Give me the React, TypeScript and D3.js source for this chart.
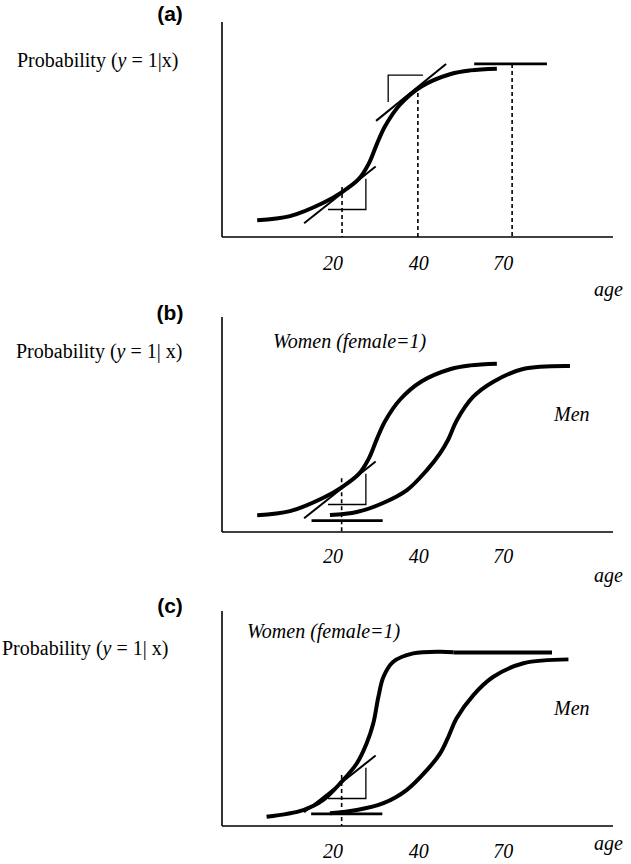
import React from "react";
import * as d3 from "d3";

type Pt = [number, number];

// ---- data (abstract units: 0..100 on both axes) ----
const panelLabels = ["(a)", "(b)", "(c)"];
const tickLabels = ["20", "40", "70"];
const tickAt = [28.4, 50.3, 71.9];

// probability curves
const womenAB: Pt[] = [[9, 7.8], [17.4, 9.7], [25.8, 15.8], [30.7, 20.9], [35, 27], [37.5, 34], [39.6, 43.2], [41.7, 51.5], [45.5, 61.5], [51, 70], [58.5, 75.8], [63.5, 77.5], [70.3, 78.3]];
const womenC: Pt[] = [[11.4, 4.3], [20.8, 7.4], [25.9, 12.1], [30.6, 20.6], [34.5, 29.2], [37, 38.5], [38.7, 47.8], [40, 60.1], [41.3, 69.4], [43.8, 76.4], [48.9, 80.3], [55.8, 81.1], [59.2, 80.8]];
const menB: Pt[] = [[27.6, 7.9], [34.5, 9.3], [41.2, 13.5], [47.3, 19.5], [52.4, 28.8], [55.8, 36.7], [57.8, 42.8], [60.1, 52.1], [64.2, 62.8], [69.3, 69.8], [77, 75.8], [89, 77.2]];
const menC: Pt[] = [[27.6, 5.9], [34.5, 7.4], [41.3, 10.6], [47.2, 16.7], [52.4, 26], [55.8, 33.8], [57.9, 41.5], [60, 50.1], [64.3, 60.9], [69.4, 69.4], [77.1, 75.7], [88.6, 77.5]];

// tangents and slope triangles
const tangentLow: Pt[] = [[21, 6.4], [39.3, 32.8]];
const stepLow: Pt[] = [[27.1, 12.8], [36.8, 12.8], [36.8, 27.1]];
const tangentHigh: Pt[] = [[39.4, 54], [57.3, 80.5]];
const stepHigh: Pt[] = [[42.5, 62.8], [42.5, 75.3], [51.4, 75.3]];
const plateauA: Pt[] = [[64.5, 80.5], [83.1, 80.5]];
const plateauC: Pt[] = [[59.2, 80.7], [84.4, 80.7]];
const baseB: Pt[] = [[22.9, 5.3], [41.1, 5.3]];
const baseC: Pt[] = [[22.8, 5.6], [41, 5.6]];

// dashed drop lines: [x, top]
const dropsA: Pt[] = [[30.7, 23.3], [50.1, 67], [74.2, 80.5]];
const dropsB: Pt[] = [[30.6, 25]];
const dropsC: Pt[] = [[30.6, 23.7]];

// ---- layout ----
const W = 631, H = 864;
const plotLeft = 222, plotW = 391, plotH = 215;
const serif = "'Liberation Serif', 'Times New Roman', serif";
const sans = "'Liberation Sans', Arial, sans-serif";

const x = d3.scaleLinear().domain([0, 100]).range([0, plotW]);
const y = d3.scaleLinear().domain([0, 100]).range([plotH, 0]);
const smooth = d3.line<Pt>().x(d => x(d[0])).y(d => y(d[1])).curve(d3.curveCatmullRom.alpha(0.5));
const straight = d3.line<Pt>().x(d => x(d[0])).y(d => y(d[1]));

type PanelSpec = {
  bottom: number;
  labelY: number;
  probX: number;
  probY: number;
  sep: string;
  curves: Pt[][];
  thick: Pt[][];
  medium: Pt[][];
  drops: Pt[];
  high: boolean;
  women?: [number, number];
  men?: [number, number];
  tickY: number;
  ageY: number;
};

const panels: PanelSpec[] = [
  { bottom: 237, labelY: 21, probX: 17, probY: 67, sep: "|", curves: [womenAB], thick: [], medium: [plateauA], drops: dropsA, high: true, tickY: 270, ageY: 296 },
  { bottom: 532, labelY: 320, probX: 16, probY: 358, sep: "| ", curves: [womenAB, menB], thick: [], medium: [baseB], drops: dropsB, high: false, women: [273, 348], men: [554, 421], tickY: 563, ageY: 582 },
  { bottom: 826, labelY: 613, probX: 2, probY: 655, sep: "| ", curves: [womenC, menC], thick: [plateauC], medium: [baseC], drops: dropsC, high: false, women: [247, 638], men: [554, 715], tickY: 858, ageY: 850 },
];

function Panel({ p, label }: { p: PanelSpec; label: string }) {
  const top = p.bottom - plotH;
  return (
    <g>
      <text x={170} y={p.labelY} textAnchor="middle" fontFamily={sans} fontWeight="bold" fontSize={21}>{label}</text>
      <text x={p.probX} y={p.probY} fontFamily={serif} fontSize={20}>
        Probability (<tspan fontStyle="italic">y</tspan> = 1{p.sep}x)
      </text>
      {p.women && (
        <text x={p.women[0]} y={p.women[1]} fontFamily={serif} fontStyle="italic" fontSize={20}>Women (female=1)</text>
      )}
      {p.men && (
        <text x={p.men[0]} y={p.men[1]} fontFamily={serif} fontStyle="italic" fontSize={20}>Men</text>
      )}
      <g transform={`translate(${plotLeft},${top})`}>
        <line x1={0} x2={0} y1={0} y2={plotH} stroke="#000" strokeWidth={1.6} />
        <line x1={0} x2={plotW} y1={plotH} y2={plotH} stroke="#000" strokeWidth={1.6} />
        {p.drops.map((d, i) => (
          <line key={i} x1={x(d[0])} x2={x(d[0])} y1={y(d[1])} y2={y(0)} stroke="#000" strokeWidth={1.6} strokeDasharray="4,3" />
        ))}
        {p.curves.map((c, i) => (
          <path key={i} d={smooth(c) ?? ""} fill="none" stroke="#000" strokeWidth={4} />
        ))}
        {p.thick.map((s, i) => (
          <path key={i} d={straight(s) ?? ""} fill="none" stroke="#000" strokeWidth={4} />
        ))}
        {p.medium.map((s, i) => (
          <path key={i} d={straight(s) ?? ""} fill="none" stroke="#000" strokeWidth={2.8} />
        ))}
        <path d={straight(tangentLow) ?? ""} fill="none" stroke="#000" strokeWidth={2} />
        <path d={straight(stepLow) ?? ""} fill="none" stroke="#000" strokeWidth={1.3} />
        {p.high && (
          <g>
            <path d={straight(tangentHigh) ?? ""} fill="none" stroke="#000" strokeWidth={2} />
            <path d={straight(stepHigh) ?? ""} fill="none" stroke="#000" strokeWidth={1.3} />
          </g>
        )}
      </g>
      {tickLabels.map((t, i) => (
        <text key={t} x={plotLeft + x(tickAt[i])} y={p.tickY} textAnchor="middle" fontFamily={serif} fontStyle="italic" fontSize={20}>{t}</text>
      ))}
      <text x={594} y={p.ageY} fontFamily={serif} fontStyle="italic" fontSize={20}>age</text>
    </g>
  );
}

export default function App() {
  return (
    <svg width={W} height={H} style={{ position: "absolute", left: 0, top: 0, background: "#fff" }}>
      <rect width={W} height={H} fill="#fff" />
      {panels.map((p, i) => (
        <Panel key={i} p={p} label={panelLabels[i]} />
      ))}
    </svg>
  );
}
